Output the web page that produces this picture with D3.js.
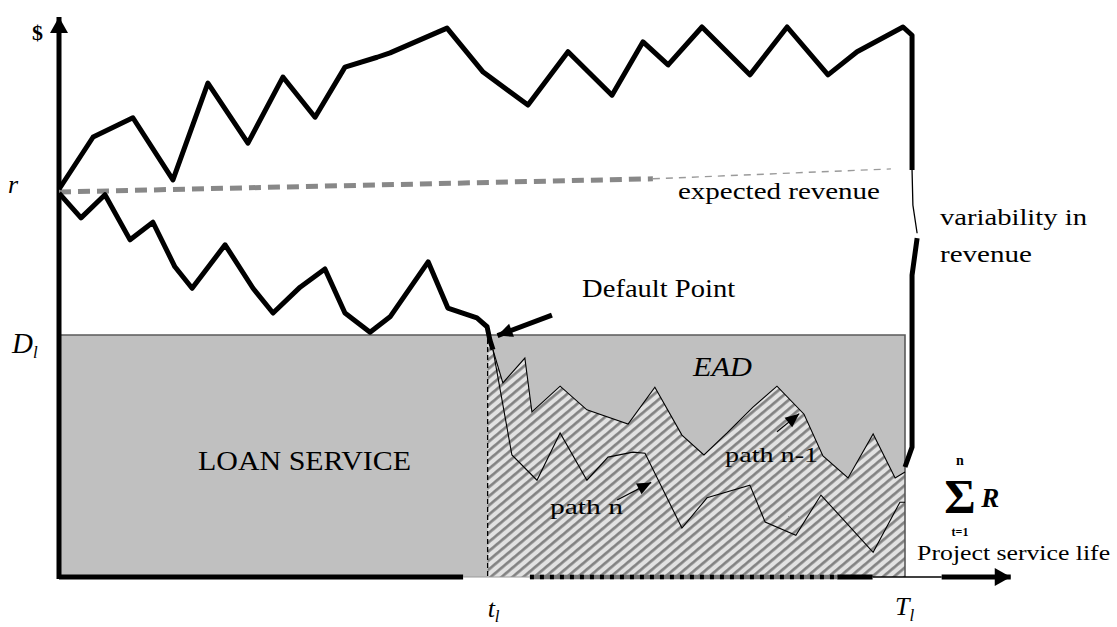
<!DOCTYPE html>
<html>
<head>
<meta charset="utf-8">
<title>Revenue paths, default point and EAD</title>
<script src="https://d3js.org/d3.v7.min.js"></script>
<style>
  body { margin: 0; background: #fff; }
  svg text { font-family: "Liberation Serif", "Times New Roman", serif; fill: #000; }
</style>
</head>
<body>
<svg id="chart" width="1117" height="627"></svg>
<script>
"use strict"

// time in years (0 .. project life Tl), revenue as an index (0 .. 100)
var Tl = 30, tl = 15.2, Dl = 44;

// expected revenue (grey dashes), thick part then thin part
var expectedT = [0, 21.06, 29.5];
var expectedV = [70, 72.4, 74.2];

// high revenue path (thick)
var upperT = [0, 1.21, 2.62, 4.04, 5.28, 6.70, 7.94, 9.08, 10.14, 11.28, 11.74, 13.76, 15.04, 16.63, 18.05,
              19.61, 20.71, 21.60, 22.80, 24.50, 25.82, 27.27, 28.30, 29.93, 30.25, 30.25];
var upperV = [70.5, 80.0, 83.5, 72.2, 89.8, 78.9, 90.9, 83.6, 92.7, 94.5, 95.3, 99.8, 91.8, 85.8, 95.5,
              87.6, 97.3, 93.1, 100, 91.3, 100, 91.3, 95.5, 100, 98.5, 74.0];
// thin bit of the drop at the end, then the rest of the drop
var gapT = [30.25, 30.28, 30.43];
var gapV = [74.0, 67.6, 62.5];
var tailT = [30.43, 30.25, 30.25, 30.0];
var tailV = [61.6, 54.9, 23.6, 20.0];

// path that hits the debt level (thick)
var defaultT = [0, 0.78, 1.63, 2.52, 3.33, 4.11, 4.72, 5.89, 6.88, 7.59, 8.55, 9.43, 10.14, 11.03, 11.74,
                13.09, 13.79, 14.82, 15.18, 15.28, 15.39];
var defaultV = [69.8, 65.3, 69.5, 61.3, 64.5, 56.4, 52.5, 60.4, 52.5, 48.0, 52.7, 56.0, 48.0, 44.5, 47.3,
                57.3, 48.9, 47.1, 45.5, 43.1, 41.3];

// paths after default (thin)
var pathN1T = [15.39, 15.74, 16.52, 16.77, 17.77, 18.72, 20.18, 21.13, 22.09, 22.87, 23.69, 24.61, 25.46,
               26.42, 27.09, 27.98, 28.87, 29.65, 30];
var pathN1V = [41.3, 35.3, 39.8, 30.0, 34.7, 30.4, 27.8, 34.5, 25.8, 22.2, 26.2, 30.9, 34.7,
               29.6, 22.0, 18.0, 26.0, 18.0, 19.1];
var pathNT = [15.39, 16.06, 16.95, 17.77, 18.72, 19.47, 20.35, 20.78, 22.09, 22.98, 24.50, 25.04, 26.13,
              27.02, 28.87, 29.82, 30];
var pathNV = [41.3, 22.2, 17.6, 26.2, 17.6, 21.8, 22.7, 22.5, 8.9, 14.4, 16.7, 10.0, 7.6,
              14.9, 4.5, 13.6, 13.6];

function zip(ts, vs) { return ts.map(function(t, i) { return {t: t, v: vs[i]}; }); }

var svg = d3.select('#chart');
var x = d3.scaleLinear().domain([0, Tl]).range([59, 905]);
var y = d3.scaleLinear().domain([0, 100]).range([577, 27]);

var line = d3.line().x(function(d) { return x(d.t); }).y(function(d) { return y(d.v); });

var defs = svg.append('defs');
var pat = defs.append('pattern')
    .attr('id', 'hatch').attr('patternUnits', 'userSpaceOnUse')
    .attr('width', 7).attr('height', 7)
    .attr('patternTransform', 'rotate(50)');
pat.append('rect').attr('width', 7).attr('height', 7).attr('fill', '#e2e2e2');
pat.append('line').attr('x1', 1.4).attr('y1', 0).attr('x2', 1.4).attr('y2', 7)
    .attr('stroke', '#7f7f7f').attr('stroke-width', 2.6);

function marker(id, len, half) {
  defs.append('marker')
      .attr('id', id).attr('markerUnits', 'userSpaceOnUse')
      .attr('viewBox', (-len - 1) + ' ' + (-half - 1) + ' ' + (len + 2) + ' ' + (2 * half + 2))
      .attr('markerWidth', len + 2).attr('markerHeight', 2 * half + 2)
      .attr('refX', 0).attr('refY', 0).attr('orient', 'auto')
      .append('path').attr('d', 'M' + (-len) + ',' + (-half) + 'L0,0L' + (-len) + ',' + half + 'Z')
      .attr('fill', '#000');
}
marker('axisHead', 16, 9);
marker('bigHead', 15, 7);
marker('smallHead', 14, 6);

// loan service / EAD box
svg.append('rect')
    .attr('x', x(0)).attr('y', y(Dl))
    .attr('width', x(Tl) - x(0)).attr('height', y(0) - y(Dl))
    .attr('fill', '#c0c0c0');

// hatched area below path n-1
var area = d3.area().x(function(d) { return x(d.t); }).y0(y(0)).y1(function(d) { return y(d.v); });
svg.append('path')
    .datum([{t: tl, v: Dl}].concat(zip(pathN1T, pathN1V)))
    .attr('d', area).attr('fill', 'url(#hatch)');

svg.append('path')
    .datum([{t: 0, v: Dl}, {t: Tl, v: Dl}, {t: Tl, v: 0}])
    .attr('d', line).attr('fill', 'none').attr('stroke', '#5a5a5a').attr('stroke-width', 1.6);

svg.append('line')
    .attr('x1', x(tl)).attr('x2', x(tl)).attr('y1', y(Dl) + 4).attr('y2', y(0))
    .attr('stroke', '#000').attr('stroke-width', 1.3).attr('stroke-dasharray', '5,3');

[zip(pathN1T, pathN1V), zip(pathNT, pathNV)].forEach(function(p) {
  svg.append('path').datum(p).attr('d', line)
      .attr('fill', 'none').attr('stroke', '#000').attr('stroke-width', 1.1);
});

// x axis, drawn in pieces like the original
var axisParts = [
  {a: 0, b: 14.33, w: 5, c: '#000', dash: null},
  {a: 14.33, b: 16.7, w: 1.2, c: '#9a9a9a', dash: null},
  {a: 16.7, b: 27.6, w: 4.5, c: '#777', dash: null},
  {a: 16.7, b: 27.6, w: 4.5, c: '#000', dash: '4,6'},
  {a: 27.6, b: 28.85, w: 5, c: '#000', dash: null},
  {a: 28.85, b: 31.3, w: 1.3, c: '#000', dash: null}
];
axisParts.forEach(function(s) {
  svg.append('line')
      .attr('x1', x(s.a)).attr('x2', x(s.b)).attr('y1', y(0)).attr('y2', y(0))
      .attr('stroke', s.c).attr('stroke-width', s.w).attr('stroke-dasharray', s.dash);
});
svg.append('line')
    .attr('x1', x(31.3)).attr('x2', x(33.75)).attr('y1', y(0)).attr('y2', y(0))
    .attr('stroke', '#000').attr('stroke-width', 5).attr('marker-end', 'url(#axisHead)');

// y axis
svg.append('line')
    .attr('x1', x(0)).attr('x2', x(0)).attr('y1', y(0) + 2).attr('y2', y(101.8))
    .attr('stroke', '#000').attr('stroke-width', 5).attr('marker-end', 'url(#axisHead)');

// expected revenue
var exp = zip(expectedT, expectedV);
svg.append('path').datum(exp.slice(0, 2)).attr('d', line)
    .attr('fill', 'none').attr('stroke', '#888').attr('stroke-width', 5).attr('stroke-dasharray', '12,7');
svg.append('path').datum(exp.slice(1)).attr('d', line)
    .attr('fill', 'none').attr('stroke', '#9a9a9a').attr('stroke-width', 1.4).attr('stroke-dasharray', '7,6');

// thick revenue paths
function thick(p, w) {
  svg.append('path').datum(p).attr('d', line)
      .attr('fill', 'none').attr('stroke', '#000').attr('stroke-width', w)
      .attr('stroke-linejoin', 'round');
}
thick(zip(upperT, upperV), 5);
thick(zip(gapT, gapV), 1.3);
thick(zip(tailT, tailV), 5);
thick(zip(defaultT, defaultV), 5);

// arrows
function arrow(t0, v0, t1, v1, w, head) {
  svg.append('line')
      .attr('x1', x(t0)).attr('y1', y(v0)).attr('x2', x(t1)).attr('y2', y(v1))
      .attr('stroke', '#000').attr('stroke-width', w).attr('marker-end', 'url(#' + head + ')');
}
arrow(17.48, 47.6, 15.55, 43.9, 5, 'bigHead');
arrow(19.79, 14.0, 21.0, 17.2, 1.2, 'smallHead');
arrow(25.46, 26.4, 26.25, 29.7, 1.2, 'smallHead');

// labels
function label(str, px, py, size, len, italic) {
  var t = svg.append('text')
      .attr('x', px).attr('y', py)
      .attr('font-size', size)
      .attr('font-style', italic ? 'italic' : 'normal')
      .text(str);
  if (len) t.attr('textLength', len).attr('lengthAdjust', 'spacingAndGlyphs');
  return t;
}
label('$', x(0) - 27, y(97.6), 22).attr('font-weight', 'bold');
label('r', x(0) - 51, y(69.8), 26, null, true);
label('D', x(0) - 47, y(40.7), 29, null, true)
    .append('tspan').attr('font-size', 17).attr('dy', 5).text('l');

label('Default Point', x(18.55), y(50.9), 25, 153);
label('expected revenue', x(21.95), y(68.7), 24, 202);
label('variability in', x(31.24), y(64.0), 24, 147);
label('revenue', x(31.24), y(57.2), 24, 92);
label('LOAN SERVICE', x(4.93), y(19.5), 27, 213);
label('EAD', x(22.48), y(36.6), 28, 59, true);
label('path n', x(17.41), y(11.4), 22, 73);
label('path n-1', x(23.62), y(20.9), 22, 93);
label('Project service life', x(30.43), y(3.1), 22, 193);

label('t', x(tl), y(0) + 40, 26, null, true)
    .append('tspan').attr('font-size', 17).attr('dy', 5).text('l');
label('T', x(Tl) - 10, y(0) + 38, 26, null, true)
    .append('tspan').attr('font-size', 17).attr('dy', 6).text('l');

// sum of revenues, limits and sign in one text
var sx = x(31.95);
var sum = svg.append('text').attr('font-weight', 'bold').attr('text-anchor', 'middle');
sum.append('tspan').attr('x', sx).attr('y', y(20.3)).attr('font-size', 14).text('n');
sum.append('tspan').attr('x', sx).attr('y', y(11.6)).attr('font-size', 48).text('\u03A3');
sum.append('tspan').attr('x', sx).attr('y', y(7.5)).attr('font-size', 12).text('t=1');
svg.append('text').attr('x', x(32.7)).attr('y', y(12.8))
    .attr('font-size', 27).attr('font-weight', 'bold').attr('font-style', 'italic').text('R');
</script>
</body>
</html>
